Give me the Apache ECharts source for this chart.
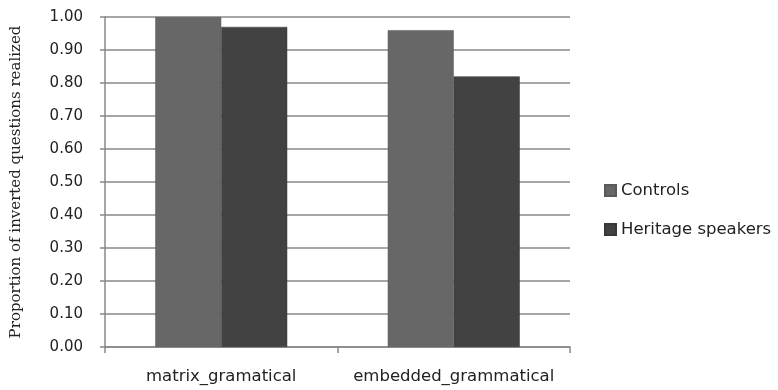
<!DOCTYPE html>
<html>
<head>
<meta charset="utf-8">
<script src="https://cdn.jsdelivr.net/npm/echarts@6/dist/echarts.min.js"></script>
<style>
  html, body { margin: 0; padding: 0; background: #fff; }
  #chart { width: 778px; height: 390px; }
</style>
</head>
<body>
<div id="chart"></div>
<script>
// Question types on the x axis
const categories = ['matrix_gramatical', 'embedded_grammatical'];
// Proportion of inverted questions realized, per group
const controlsValues = [1.00, 0.96];
const heritageValues = [0.97, 0.82];
const seriesNames = ['Controls', 'Heritage speakers'];

const sans = '"DejaVu Sans", "Open Sans", sans-serif';

const chart = echarts.init(document.getElementById('chart'));
chart.setOption({
  backgroundColor: '#ffffff',
  animation: false,
  grid: { left: 105, right: 208, top: 17, bottom: 43 },
  legend: {
    orient: 'vertical',
    left: 599,
    top: 177,
    itemWidth: 11,
    itemHeight: 11,
    itemGap: 22,
    icon: 'rect',
    textStyle: { fontFamily: sans, fontSize: 16.5, color: '#222' },
    data: seriesNames
  },
  xAxis: {
    type: 'category',
    data: categories,
    axisLine: { lineStyle: { color: '#888', width: 1.5 } },
    axisTick: { show: true, length: 6, lineStyle: { color: '#888', width: 1.5 } },
    axisLabel: { fontFamily: sans, fontSize: 16.5, color: '#222', margin: 21, interval: 0 }
  },
  yAxis: {
    type: 'value',
    min: 0,
    max: 1,
    interval: 0.1,
    name: 'Proportion of inverted questions realized',
    nameLocation: 'middle',
    nameGap: 81,
    nameTextStyle: { fontFamily: '"DejaVu Serif", "Liberation Serif", serif', fontSize: 15, color: '#222' },
    axisLine: { show: true, lineStyle: { color: '#888', width: 1.5 } },
    axisTick: { show: true, length: 5, lineStyle: { color: '#888', width: 1.5 } },
    axisLabel: {
      fontFamily: sans, fontSize: 15, color: '#222', margin: 22,
      formatter: v => v.toFixed(2)
    },
    splitLine: { lineStyle: { color: '#888', width: 1.5 } }
  },
  series: [
    {
      name: seriesNames[0],
      type: 'bar',
      data: controlsValues,
      barWidth: 66,
      barGap: '0%',
      itemStyle: { color: '#676767', borderColor: '#5a5a5a', borderWidth: 0.5 }
    },
    {
      name: seriesNames[1],
      type: 'bar',
      data: heritageValues,
      barWidth: 66,
      itemStyle: { color: '#424242', borderColor: '#383838', borderWidth: 0.5 }
    }
  ]
});
</script>
</body>
</html>
